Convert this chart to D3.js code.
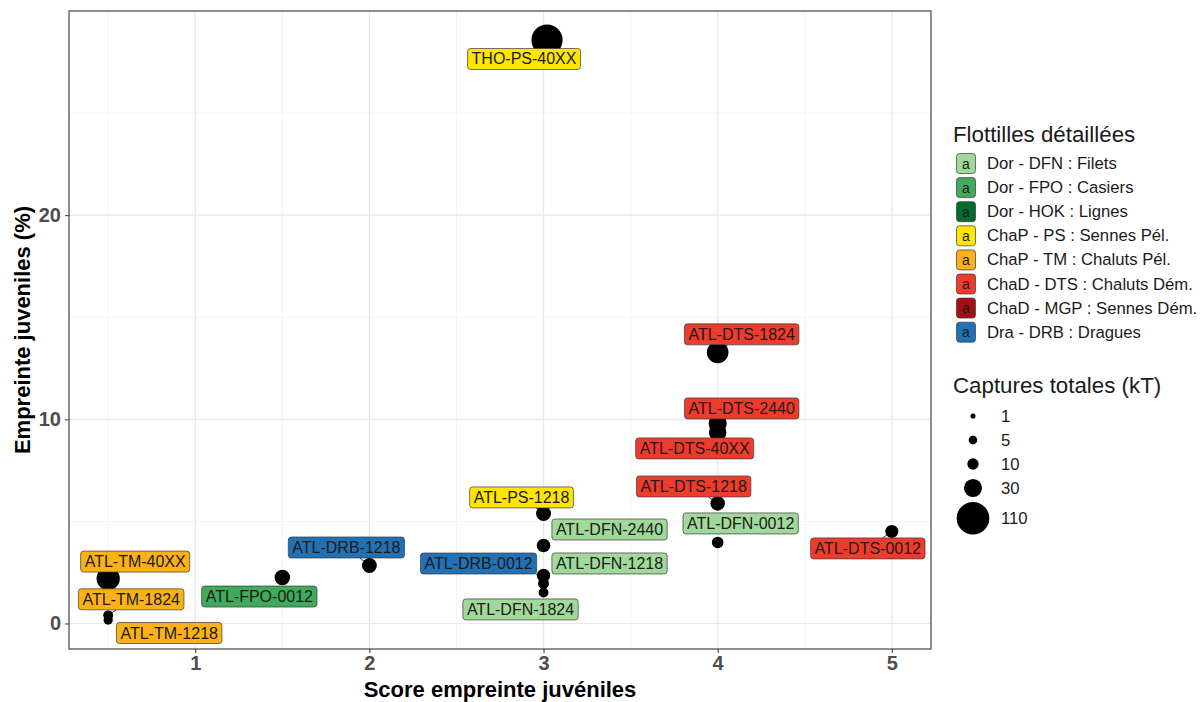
<!DOCTYPE html>
<html><head><meta charset="utf-8">
<script src="https://cdn.jsdelivr.net/npm/d3@7"></script>
<style>
body{margin:0;background:#fff;}
svg{display:block;font-family:"Liberation Sans",Arial,Helvetica,sans-serif;}
</style>
</head><body>
<svg id="chart" width="1201" height="702"></svg>
<script>
// ---- data ----
const names = ["THO-PS-40XX","ATL-DTS-1824","ATL-DTS-2440","ATL-DTS-40XX","ATL-DTS-1218","ATL-DFN-0012","ATL-DTS-0012","ATL-PS-1218","ATL-DFN-2440","ATL-DRB-0012","ATL-DFN-1218","ATL-DFN-1824","ATL-DRB-1218","ATL-FPO-0012","ATL-TM-40XX","ATL-TM-1824","ATL-TM-1218"];
const scores = [3.02,4,4,4,4,4,5,3,3,3,3,3,2,1.5,0.5,0.5,0.5];
const empreinte = [28.58,13.28,9.8,9.36,5.88,3.97,4.51,5.39,3.82,2.35,1.96,1.52,2.84,2.25,2.2,0.4,0.17];
const captures = [100,45,30,28,18,10.5,14,19.5,15.5,15,9,7,19,21,53,7,6];
const groups = ["PS","DTS","DTS","DTS","DTS","DFN","DTS","PS","DFN","DRB","DFN","DFN","DRB","FPO","TM","TM","TM"];

const legendCodes = ["DFN","FPO","HOK","PS","TM","DTS","MGP","DRB"];
const legendLabels = ["Dor - DFN : Filets","Dor - FPO : Casiers","Dor - HOK : Lignes","ChaP - PS : Sennes Pél.","ChaP - TM : Chaluts Pél.","ChaD - DTS : Chaluts Dém.","ChaD - MGP : Sennes Dém.","Dra - DRB : Dragues"];
const legendColors = ["#A1D99B","#41AB5D","#006D2C","#FFE600","#FBB117","#EF3B2C","#A50F15","#2171B5"];
const sizeBreaks = [1,5,10,30,110];
const xTicks = [1,2,3,4,5];
const yTicks = [0,10,20];

// ---- label layout (repel result offsets, px, relative to point) ----
const labelDx = [-23,24,24,-23,-24,23,-24,-22,66,-65,66,-23,-23,-23,27,23,61];
const labelDy = [19,-18,-15,16,-17,-19,17,-16,-16,-12,-20,17,-18,19,-17,-16,13];

// ---- layout ----
const svg = d3.select("#chart");
const P = {l:69, r:931, t:11, b:649};
const x = d3.scaleLinear().domain([0.275,5.225]).range([P.l,P.r]);
const y = d3.scaleLinear().domain([-1.25,30]).range([P.b,P.t]);
const size = d3.scaleSqrt().domain([1,110]).range([2.55,16.3]);
const color = d3.scaleOrdinal().domain(legendCodes).range(legendColors);

// grid
const g = svg.append("g");
const xMinor = [0.5,1.5,2.5,3.5,4.5], yMinor = [5,15,25];
g.selectAll(".xm").data(xMinor).join("line").attr("x1",d=>x(d)).attr("x2",d=>x(d)).attr("y1",P.t).attr("y2",P.b).attr("stroke","#F2F2F2").attr("stroke-width",0.8);
g.selectAll(".ym").data(yMinor).join("line").attr("y1",d=>y(d)).attr("y2",d=>y(d)).attr("x1",P.l).attr("x2",P.r).attr("stroke","#F2F2F2").attr("stroke-width",0.8);
g.selectAll(".xM").data(xTicks).join("line").attr("x1",d=>x(d)).attr("x2",d=>x(d)).attr("y1",P.t).attr("y2",P.b).attr("stroke","#E8E8E8").attr("stroke-width",1.2);
g.selectAll(".yM").data(yTicks).join("line").attr("y1",d=>y(d)).attr("y2",d=>y(d)).attr("x1",P.l).attr("x2",P.r).attr("stroke","#E8E8E8").attr("stroke-width",1.2);

// axes
const xAxis = d3.axisBottom(x).tickValues(xTicks).tickSize(4).tickPadding(3).tickFormat(d3.format("d"));
const yAxis = d3.axisLeft(y).tickValues(yTicks).tickSize(4).tickPadding(4).tickFormat(d3.format("d"));
const gx = svg.append("g").attr("transform",`translate(0,${P.b})`).call(xAxis);
const gy = svg.append("g").attr("transform",`translate(${P.l},0)`).call(yAxis);
[gx,gy].forEach(a=>{
  a.select(".domain").remove();
  a.selectAll(".tick line").attr("stroke","#333").attr("stroke-width",1);
  a.selectAll(".tick text").attr("fill","#4D4D4D").attr("font-size","20px").attr("font-weight","bold").attr("font-family","Liberation Sans, Arial, sans-serif");
});

// points
const data = names.map((n,i)=>({n, sx:scores[i], ey:empreinte[i], c:captures[i], g:groups[i], dx:labelDx[i], dy:labelDy[i]}));
svg.append("g").selectAll("circle").data(data).join("circle")
  .attr("cx",d=>x(d.sx)).attr("cy",d=>y(d.ey)).attr("r",d=>size(d.c)).attr("fill","#000");

// labels
const lg = svg.append("g");
const H = 21;
data.forEach(d=>{
  const px = x(d.sx), py = y(d.ey);
  const cx = px + d.dx, cy = py + d.dy;
  const grp = lg.append("g");
  const t = grp.append("text").attr("x",cx).attr("y",cy).attr("text-anchor","middle").attr("dominant-baseline","central")
    .attr("font-size","16px").attr("fill","#1a1a1a").text(d.n);
  const w = t.node().getComputedTextLength() + 8;
  const hw = w/2, hh = H/2;
  const ddx = px - cx, ddy = py - cy;
  const sc = Math.min(hw/Math.abs(ddx||1e-6), hh/Math.abs(ddy||1e-6));
  const ex = cx + ddx*Math.min(sc,1), ey = cy + ddy*Math.min(sc,1);
  const gap = Math.hypot(px-ex, py-ey) - size(d.c);
  if (sc < 1 && gap > 1 && gap < 5) {
    grp.insert("line","text").attr("x1",px).attr("y1",py).attr("x2",ex).attr("y2",ey).attr("stroke","#000").attr("stroke-width",0.8);
  }
  grp.insert("rect","text").attr("x",cx-hw).attr("y",cy-hh).attr("width",w).attr("height",H).attr("rx",3).attr("ry",3)
    .attr("fill",color(d.g)).attr("stroke","#3a3a3a").attr("stroke-width",0.7);
});

// panel border
svg.append("rect").attr("x",P.l).attr("y",P.t).attr("width",P.r-P.l).attr("height",P.b-P.t).attr("fill","none").attr("stroke","#333").attr("stroke-width",1.1);

// axis titles
svg.append("text").attr("x",(P.l+P.r)/2).attr("y",697).attr("text-anchor","middle").attr("font-size","22px").attr("font-weight","bold").attr("fill","#000").text("Score empreinte juvéniles");
svg.append("text").attr("transform",`translate(30,${(P.t+P.b)/2}) rotate(-90)`).attr("text-anchor","middle").attr("font-size","22px").attr("font-weight","bold").attr("fill","#000").text("Empreinte juveniles (%)");

// colour legend
const L = svg.append("g");
L.append("text").attr("x",953).attr("y",142).attr("font-size","22.3px").attr("fill","#1a1a1a").text("Flottilles détaillées");
legendCodes.forEach((c,i)=>{
  const yy = 163.5 + i*24.1;
  L.append("rect").attr("x",956.5).attr("y",yy-10).attr("width",19).attr("height",20).attr("rx",3).attr("fill",color(c)).attr("stroke","#3a3a3a").attr("stroke-width",0.7);
  L.append("text").attr("x",966).attr("y",yy).attr("text-anchor","middle").attr("dominant-baseline","central").attr("font-size","14px").attr("fill","#1a1a1a").text("a");
  L.append("text").attr("x",987).attr("y",yy).attr("dominant-baseline","central").attr("font-size","16.7px").attr("fill","#1a1a1a").text(legendLabels[i]);
});

// size legend
L.append("text").attr("x",953).attr("y",393).attr("font-size","22.3px").attr("fill","#1a1a1a").text("Captures totales (kT)");
let cum = 404;
sizeBreaks.forEach(v=>{
  const r = size(v);
  const h = Math.max(24, 2*r+4);
  const yy = cum + h/2;
  cum += h;
  L.append("circle").attr("cx",973).attr("cy",yy).attr("r",r).attr("fill","#000");
  L.append("text").attr("x",1001).attr("y",yy).attr("dominant-baseline","central").attr("font-size","16.7px").attr("fill","#1a1a1a").text(v);
});
</script>
</body></html>
